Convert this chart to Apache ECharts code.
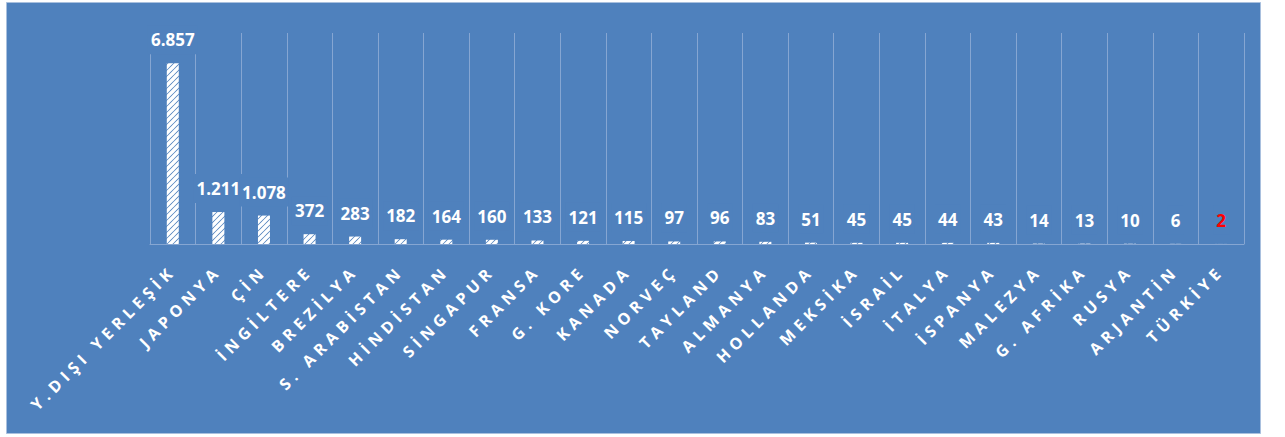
<!DOCTYPE html>
<html>
<head>
<meta charset="utf-8">
<script src="https://cdn.jsdelivr.net/npm/echarts@6/dist/echarts.min.js"></script>
<style>
html,body{margin:0;padding:0;background:#ffffff;}
#chart{width:1285px;height:437px;}
#chart text[text-anchor="end"]{letter-spacing:5px;}
</style>
</head>
<body>
<div id="chart"></div>
<script>
const categories = ["Y.DIŞI YERLEŞİK","JAPONYA","ÇİN","İNGİLTERE","BREZİLYA","S. ARABİSTAN","HİNDİSTAN","SİNGAPUR","FRANSA","G. KORE","KANADA","NORVEÇ","TAYLAND","ALMANYA","HOLLANDA","MEKSİKA","İSRAİL","İTALYA","İSPANYA","MALEZYA","G. AFRİKA","RUSYA","ARJANTİN","TÜRKİYE"];
const values = [6857,1211,1078,372,283,182,164,160,133,121,115,97,96,83,51,45,45,44,43,14,13,10,6,2];
const highlightCategory = "TÜRKİYE";

const BG = '#4f81bd';
const GRID = '#86a6d2';

// hatch pattern
const pc = document.createElement('canvas');
pc.width = 6; pc.height = 6;
const ctx = pc.getContext('2d');
ctx.fillStyle = BG; ctx.fillRect(0,0,6,6);
ctx.strokeStyle = '#ffffff'; ctx.lineWidth = 3.4;
ctx.beginPath();
ctx.moveTo(-3,9); ctx.lineTo(9,-3);
ctx.moveTo(-3,3); ctx.lineTo(3,-3);
ctx.moveTo(3,9); ctx.lineTo(9,3);
ctx.stroke();
const patternURL = pc.toDataURL();

function fmt(v){ return String(v).replace(/\B(?=(\d{3})+(?!\d))/g,'.'); }

const data = values.map((v,i)=> categories[i]===highlightCategory
  ? {value:v, label:{color:'#ff0000'}} : v);

const chart = echarts.init(document.getElementById('chart'), null, {renderer:'svg'});
chart.setOption({
  animation:false,
  backgroundColor:'#ffffff',
  graphic:[{type:'rect', z:-10, silent:true,
    shape:{x:6.5,y:2.5,width:1254,height:431},
    style:{fill:BG, stroke:'#a9c0de', lineWidth:1}}],
  grid:{left:150,right:41,top:33,bottom:193},
  xAxis:{
    type:'category', data:categories,
    axisTick:{show:false},
    axisLine:{lineStyle:{color:GRID,width:1}},
    splitLine:{show:true, lineStyle:{color:GRID,width:1}},
    axisLabel:{rotate:45, interval:0, color:'#ffffff', fontWeight:'bold',
      fontSize:16, fontFamily:'Open Sans', margin:24}
  },
  yAxis:{type:'value', min:0, max:8000, show:false, splitLine:{show:false}},
  series:[{
    type:'bar', data:data, barWidth:12,
    itemStyle:{color:{image:patternURL, repeat:'repeat', imageWidth:6, imageHeight:6}},
    label:{show:true, position:'top', distance:9, color:'#ffffff',
      fontWeight:'bold', fontSize:17, fontFamily:'Open Sans',
      backgroundColor:BG, padding:[6,3],
      formatter:p=>fmt(p.value)}
  }]
});
</script>
</body>
</html>
